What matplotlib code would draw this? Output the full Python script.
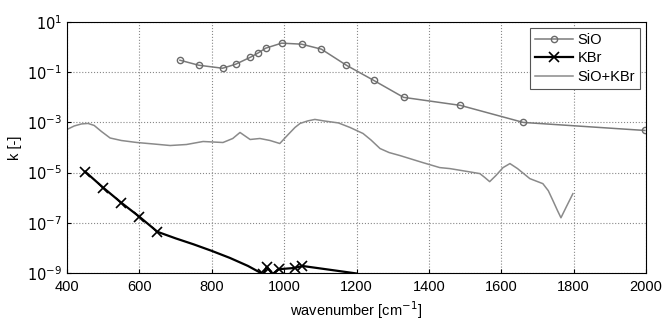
import numpy as np
import matplotlib.pyplot as plt
from matplotlib.ticker import FixedLocator, FuncFormatter

plt.rcParams['font.family'] = ['Liberation Sans', 'DejaVu Sans']

# SiO (measured points, log10 k)
sio_wn = [712, 764, 830, 866, 907, 927, 949, 993, 1048, 1103, 1172, 1247, 1330, 1487, 1661, 1997]
sio_logk = [-0.52, -0.72, -0.84, -0.68, -0.40, -0.24, -0.04, 0.16, 0.12, -0.08, -0.72, -1.32, -2.0, -2.32, -3.0, -3.32]

# KBr (log10 k); markers only on measured points
kbr_wn = [450, 500, 550, 600, 650, 700, 750, 800, 850, 900, 942, 952, 968, 985, 1030, 1050, 1100, 1150, 1200]
kbr_logk = [-4.96, -5.6, -6.2, -6.76, -7.36, -7.62, -7.86, -8.12, -8.4, -8.72, -9.05, -8.75, -9.05, -8.85, -8.8, -8.72, -8.82, -8.92, -9.02]
kbr_marks = [0, 1, 2, 3, 4, 10, 11, 12, 13, 14, 15]

# SiO+KBr mixture curve (log10 k)
mix_wn = [400, 420, 440, 458, 475, 495, 519, 550, 593, 640, 685, 730, 776, 831, 858, 878,
          906, 933, 961, 988, 1010, 1030, 1044, 1065, 1085, 1110, 1150, 1182, 1218, 1240,
          1265, 1290, 1320, 1383, 1430, 1458, 1500, 1541, 1555, 1568, 1585, 1605, 1624,
          1645, 1679, 1715, 1730, 1743, 1755, 1765, 1780, 1798]
mix_logk = [-3.28, -3.14, -3.06, -3.04, -3.12, -3.36, -3.62, -3.72, -3.8, -3.86, -3.92, -3.88,
            -3.76, -3.8, -3.64, -3.4, -3.68, -3.64, -3.72, -3.84, -3.5, -3.2, -3.04, -2.94,
            -2.88, -2.94, -3.02, -3.2, -3.44, -3.7, -4.04, -4.2, -4.32, -4.6, -4.8, -4.84,
            -4.94, -5.04, -5.2, -5.36, -5.12, -4.8, -4.64, -4.84, -5.24, -5.44, -5.72,
            -6.12, -6.5, -6.8, -6.36, -5.84]

fig = plt.figure(figsize=(6.65, 3.2), dpi=100)
ax = fig.add_axes([0.1008, 0.147, 0.8706, 0.784])

ax.plot(sio_wn, 10.0 ** np.array(sio_logk), color='#7a7a7a', lw=1.1, marker='o', ms=4.5,
        mfc='none', mec='#6a6a6a', mew=1.0, label='SiO')
ax.plot(kbr_wn, 10.0 ** np.array(kbr_logk), color='black', lw=1.6, marker='x', ms=7,
        mew=1.2, markevery=kbr_marks, label='KBr')
ax.plot(mix_wn, 10.0 ** np.array(mix_logk), color='#8a8a8a', lw=1.1, label='SiO+KBr')

ax.set_yscale('log')
ax.set_xlim(400, 2000)
ax.set_ylim(1e-9, 1e1)
ax.set_xticks(range(400, 2001, 200))
ax.yaxis.set_major_locator(FixedLocator([1e-9, 1e-7, 1e-5, 1e-3, 1e-1, 1e1]))
ax.yaxis.set_minor_locator(FixedLocator([]))
ax.yaxis.set_major_formatter(FuncFormatter(lambda v, p: '$10^{%d}$' % round(np.log10(v))))
ax.tick_params(labelsize=10.5, direction='in', length=3)
ax.tick_params(axis='x', pad=5)
ax.grid(True, which='major', linestyle=':', color='#888888', lw=0.8)

ax.set_xlabel('wavenumber [cm$^{-1}$]', fontsize=10.5)
ax.set_ylabel('k [-]', fontsize=10.5)

leg = ax.legend(loc='upper right', fontsize=10.5, fancybox=False, framealpha=1,
                edgecolor='#555555', borderaxespad=0.4, handlelength=2.6,
                handletextpad=0.3, borderpad=0.35, labelspacing=0.3)
leg.get_frame().set_linewidth(0.8)

fig.savefig('out.png', dpi=100)
